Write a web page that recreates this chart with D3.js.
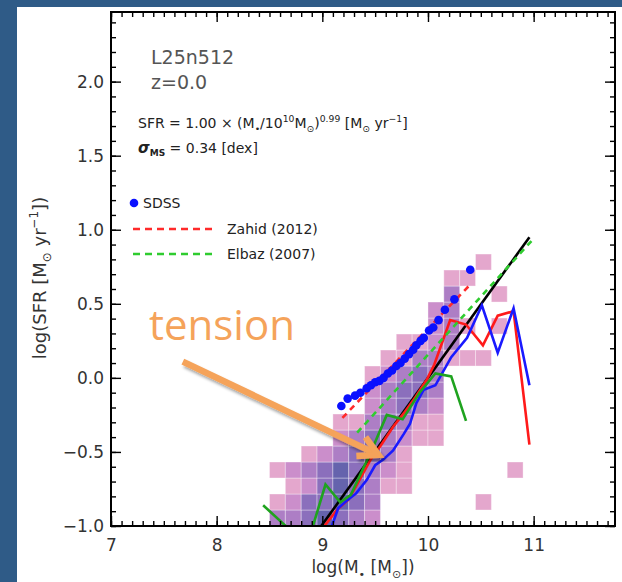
<!DOCTYPE html>
<html>
<head>
<meta charset="utf-8">
<script src="https://cdn.jsdelivr.net/npm/d3@7"></script>
<style>
  html, body { margin: 0; padding: 0; background: #2f5b87; }
  svg { display: block; }
</style>
</head>
<body>
<svg id="chart" width="622" height="582"></svg>
<script>
// ---- data ----
const xTicks = [7, 8, 9, 10, 11];
const yTicks = [-1.0, -0.5, 0.0, 0.5, 1.0, 1.5, 2.0];

// 2D histogram: rows = log SFR bins (bottom up), cols = log M* bins from 8.5, 0.15 dex wide
const massBinStart = 8.5, massBinWidth = 0.15;
const sfrBinStart = -1.0, sfrBinHeight = 0.108;
const densityGrid = [
  [3,3,4,5,4,3,2,0,0,0,0,0,0,0,0,0],
  [1,2,4,4,5,4,3,0,0,0,0,0,0,1,0,0],
  [0,1,2,4,5,4,3,1,1,0,0,0,0,0,0,0],
  [1,2,3,4,5,4,3,2,1,0,0,0,0,0,0,1],
  [0,0,1,2,3,4,4,3,1,0,0,0,0,0,0,0],
  [0,0,0,0,2,3,4,3,2,1,1,0,0,0,0,0],
  [0,0,0,0,1,1,3,4,3,1,1,0,0,0,0,0],
  [0,0,0,0,0,0,2,3,4,3,2,0,0,0,0,0],
  [0,0,0,0,0,0,2,3,4,4,3,0,0,0,0,0],
  [0,0,0,0,0,0,1,2,3,4,3,0,0,0,0,0],
  [0,0,0,0,0,0,0,1,1,3,3,1,1,1,0,0],
  [0,0,0,0,0,0,0,0,1,1,2,3,0,0,0,0],
  [0,0,0,0,0,0,0,0,0,0,2,3,1,0,1,0],
  [0,0,0,0,0,0,0,0,0,0,2,3,0,0,0,0],
  [0,0,0,0,0,0,0,0,0,0,0,3,0,0,1,0],
  [0,0,0,0,0,0,0,0,0,0,0,1,1,0,0,0],
  [0,0,0,0,0,0,0,0,0,0,0,0,0,1,0,0]
];
const densityColors = ['none', '#e4a7cd', '#cb8ecb', '#ad7ec5', '#8b6fbc', '#6563ad'];

const sdss = [
  [9.18,-0.19],[9.24,-0.14],[9.31,-0.12],[9.36,-0.10],[9.42,-0.07],[9.46,-0.05],
  [9.50,-0.03],[9.54,-0.02],[9.58,0.00],[9.62,0.03],[9.66,0.05],[9.70,0.08],
  [9.74,0.10],[9.78,0.13],[9.82,0.16],[9.86,0.19],[9.89,0.22],[9.93,0.25],
  [9.96,0.27],[10.01,0.32],[10.05,0.34],[10.10,0.39],[10.16,0.46],[10.25,0.53],
  [10.40,0.73]
];
const zahid = [[9.19,-0.27],[10.40,0.63]];
const elbaz = [[9.33,-0.37],[11.00,0.94]];
const msFit = [[8.99,-1.00],[10.96,0.95]];

const redMedian = [
  [9.02,-1.00],[9.14,-0.89],[9.25,-0.82],[9.32,-0.73],[9.45,-0.56],[9.55,-0.46],
  [9.67,-0.33],[9.77,-0.24],[9.88,-0.13],[9.99,-0.01],[10.06,0.09],[10.21,0.39],
  [10.36,0.36],[10.52,0.22],[10.66,0.42],[10.81,0.45],[10.96,-0.45]
];
const blueMedian = [
  [9.09,-1.00],[9.15,-0.88],[9.23,-0.83],[9.32,-0.78],[9.42,-0.69],[9.50,-0.59],
  [9.58,-0.55],[9.67,-0.49],[9.77,-0.38],[9.83,-0.31],[9.89,-0.17],[9.96,-0.08],
  [10.07,-0.05],[10.22,0.14],[10.37,0.27],[10.51,0.49],[10.66,0.17],[10.81,0.47],
  [10.96,-0.05]
];
const greenMedian = [
  [8.44,-0.86],[8.73,-1.05],[8.89,-1.05],[9.03,-0.72],[9.17,-0.84],[9.27,-0.79],
  [9.46,-0.50],[9.61,-0.25],[9.76,-0.28],[9.92,-0.10],[10.07,0.03],[10.22,0.01],
  [10.36,-0.29]
];

// annotation arrow, in data units
const arrowFrom = [7.68, 0.11];
const arrowTo = [9.53, -0.52];

// ---- drawing ----
const W = 622, H = 582;
const svg = d3.select('#chart');
const FONT = 'DejaVu Sans, sans-serif';

svg.append('rect').attr('width', W).attr('height', H).attr('fill', '#2f5b87');
svg.append('rect').attr('x', 17).attr('y', 7).attr('width', W - 17).attr('height', H - 7).attr('fill', '#fff');

const plot = { left: 111, right: 615, top: 12, bottom: 526 };
const x = d3.scaleLinear().domain([7, 11.77]).range([plot.left, plot.right]);
const y = d3.scaleLinear().domain([-1, 2.47]).range([plot.bottom, plot.top]);

const defs = svg.append('defs');
defs.append('clipPath').attr('id', 'clip').append('rect')
  .attr('x', plot.left).attr('y', plot.top)
  .attr('width', plot.right - plot.left).attr('height', plot.bottom - plot.top);
defs.append('filter').attr('id', 'shadow').attr('x', '-20%').attr('y', '-20%').attr('width', '140%').attr('height', '140%')
  .append('feDropShadow').attr('dx', 2).attr('dy', 3).attr('stdDeviation', 1.6)
  .attr('flood-color', '#000').attr('flood-opacity', 0.35);

const g = svg.append('g').attr('clip-path', 'url(#clip)');

// histogram cells
const cells = [];
densityGrid.forEach((row, r) => row.forEach((lv, c) => {
  if (lv > 0) cells.push({ m: massBinStart + c * massBinWidth, s: sfrBinStart + r * sfrBinHeight, lv });
}));
g.append('g').selectAll('rect').data(cells).enter().append('rect')
  .attr('x', d => x(d.m))
  .attr('y', d => y(d.s + sfrBinHeight))
  .attr('width', d => x(d.m + massBinWidth) - x(d.m))
  .attr('height', d => y(d.s) - y(d.s + sfrBinHeight))
  .attr('fill', d => densityColors[d.lv])
  .attr('stroke', '#fff').attr('stroke-opacity', 0.35).attr('stroke-width', 1);

const line = d3.line().x(d => x(d[0])).y(d => y(d[1]));
function path(data, color, width, dash) {
  g.append('path').datum(data).attr('d', line)
    .attr('fill', 'none').attr('stroke', color).attr('stroke-width', width)
    .attr('stroke-dasharray', dash || null).attr('stroke-linejoin', 'miter');
}
path(msFit, '#000', 2.6);
path(redMedian, '#ff1a1a', 2.6);
path(blueMedian, '#1a1aff', 2.6);
path(greenMedian, '#1fa31f', 2.6);
path(zahid, '#ff2a2a', 2.6, '6,5');
path(elbaz, '#2fcc2f', 2.6, '6,5');

g.append('g').selectAll('circle').data(sdss).enter().append('circle')
  .attr('cx', d => x(d[0])).attr('cy', d => y(d[1])).attr('r', 4.3).attr('fill', '#0a10ff');

// axes with inward ticks
const minorX = d3.range(70, 118).map(v => v / 10);
const minorY = d3.range(-10, 25).map(v => v / 10);
const fmtY = d3.format('.1f');

function axis(gen, tx, ty) {
  const a = svg.append('g').attr('transform', `translate(${tx},${ty})`).call(gen);
  a.select('.domain').remove();
  a.selectAll('line').attr('stroke', '#000').attr('stroke-width', 1.4);
  a.selectAll('text').attr('font-family', FONT).attr('font-size', 17).attr('fill', '#333');
  return a;
}
axis(d3.axisBottom(x).tickValues(minorX).tickSizeInner(-5).tickSizeOuter(0).tickFormat(''), 0, plot.bottom);
axis(d3.axisBottom(x).tickValues(xTicks).tickSizeInner(-10).tickSizeOuter(0).tickPadding(13).tickFormat(d3.format('d')), 0, plot.bottom);
axis(d3.axisTop(x).tickValues(minorX).tickSizeInner(-5).tickSizeOuter(0).tickFormat(''), 0, plot.top);
axis(d3.axisTop(x).tickValues(xTicks).tickSizeInner(-10).tickSizeOuter(0).tickFormat(''), 0, plot.top);
axis(d3.axisLeft(y).tickValues(minorY).tickSizeInner(-5).tickSizeOuter(0).tickFormat(''), plot.left, 0);
axis(d3.axisLeft(y).tickValues(yTicks).tickSizeInner(-10).tickSizeOuter(0).tickPadding(7).tickFormat(fmtY), plot.left, 0);
axis(d3.axisRight(y).tickValues(minorY).tickSizeInner(-5).tickSizeOuter(0).tickFormat(''), plot.right, 0);
axis(d3.axisRight(y).tickValues(yTicks).tickSizeInner(-10).tickSizeOuter(0).tickFormat(''), plot.right, 0);

svg.append('rect')
  .attr('x', plot.left).attr('y', plot.top)
  .attr('width', plot.right - plot.left).attr('height', plot.bottom - plot.top)
  .attr('fill', 'none').attr('stroke', '#000').attr('stroke-width', 2);

// rich text helper: parts = [text, 'n'|'sup'|'sub']
function rich(sel, parts, size) {
  let shift = 0;
  parts.forEach(([t, kind]) => {
    const target = kind === 'sup' ? -size * 0.42 : kind === 'sub' ? size * 0.28 : 0;
    sel.append('tspan').attr('dy', target - shift)
      .attr('font-size', kind === 'n' ? size : size * 0.66).text(t);
    shift = target;
  });
  return sel;
}

// axis titles
rich(svg.append('text').attr('x', 363).attr('y', 573).attr('text-anchor', 'middle')
  .attr('font-family', FONT).attr('fill', '#333'),
  [['log(M', 'n'], ['•', 'sub'], [' [M', 'n'], ['⊙', 'sub'], ['])', 'n']], 17);
rich(svg.append('text').attr('transform', 'translate(46,278) rotate(-90)').attr('text-anchor', 'middle')
  .attr('font-family', FONT).attr('fill', '#333'),
  [['log(SFR [M', 'n'], ['⊙', 'sub'], [' yr', 'n'], ['−1', 'sup'], ['])', 'n']], 18);

// annotations
const note = svg.append('g').attr('font-family', FONT);
note.append('text').attr('x', 151).attr('y', 64).attr('font-size', 19).attr('fill', '#555').text('L25n512');
note.append('text').attr('x', 151).attr('y', 89).attr('font-size', 19).attr('fill', '#555').text('z=0.0');
rich(note.append('text').attr('x', 138).attr('y', 128).attr('fill', '#222'),
  [['SFR = 1.00 × (M', 'n'], ['•', 'sub'], ['/10', 'n'], ['10', 'sup'], ['M', 'n'], ['⊙', 'sub'],
   [')', 'n'], ['0.99', 'sup'], [' [M', 'n'], ['⊙', 'sub'], [' yr', 'n'], ['−1', 'sup'], [']', 'n']], 14);
const sig = note.append('text').attr('x', 138).attr('y', 153).attr('fill', '#222').attr('font-size', 14);
sig.append('tspan').attr('font-weight', 'bold').attr('font-style', 'italic').attr('font-size', 15).text('σ');
sig.append('tspan').attr('font-weight', 'bold').attr('font-size', 9).attr('dy', 3).text('MS');
sig.append('tspan').attr('dy', -3).text(' = 0.34 [dex]');

// legend
const legend = svg.append('g').attr('font-family', FONT).attr('font-size', 14).attr('fill', '#222');
legend.append('circle').attr('cx', 134).attr('cy', 203).attr('r', 4.3).attr('fill', '#0a10ff');
legend.append('text').attr('x', 143).attr('y', 208).text('SDSS');
legend.append('line').attr('x1', 133).attr('x2', 216).attr('y1', 229).attr('y2', 229)
  .attr('stroke', '#ff2a2a').attr('stroke-width', 2.6).attr('stroke-dasharray', '7,5');
legend.append('text').attr('x', 227).attr('y', 234).text('Zahid (2012)');
legend.append('line').attr('x1', 133).attr('x2', 216).attr('y1', 254).attr('y2', 254)
  .attr('stroke', '#2fcc2f').attr('stroke-width', 2.6).attr('stroke-dasharray', '7,5');
legend.append('text').attr('x', 227).attr('y', 259).text('Elbaz (2007)');

// "tension" callout
const orange = '#f5a35a';
svg.append('text').attr('x', 149).attr('y', 340)
  .attr('font-family', 'Open Sans, sans-serif').attr('font-size', 42).attr('fill', orange).text('tension');

const p0 = [x(arrowFrom[0]), y(arrowFrom[1])];
const p1 = [x(arrowTo[0]), y(arrowTo[1])];
const ang = Math.atan2(p1[1] - p0[1], p1[0] - p0[0]);
const headLen = 22, spread = 0.5;
const wing = s => [p1[0] - headLen * Math.cos(ang + s), p1[1] - headLen * Math.sin(ang + s)];
const arrow = svg.append('g').attr('filter', 'url(#shadow)')
  .attr('fill', 'none').attr('stroke', orange).attr('stroke-width', 6.5);
arrow.append('line').attr('x1', p0[0]).attr('y1', p0[1]).attr('x2', p1[0] - 3 * Math.cos(ang)).attr('y2', p1[1] - 3 * Math.sin(ang));
arrow.append('path').attr('d', d3.line()([wing(-spread), p1, wing(spread)])).attr('stroke-linejoin', 'miter');
</script>
</body>
</html>
